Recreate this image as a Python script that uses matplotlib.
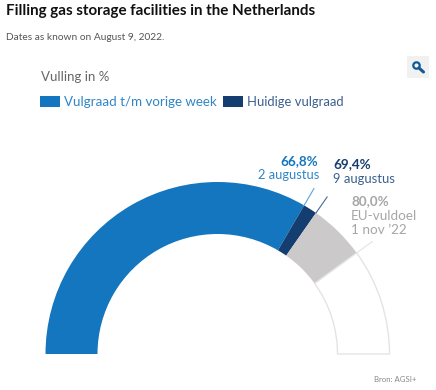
"""Half-donut gauge of the Dutch gas storage filling level."""

import matplotlib

matplotlib.use("Agg")
import matplotlib.pyplot as plt
import numpy as np
from matplotlib.patches import Circle, Rectangle, Wedge

plt.rcParams["font.family"] = ["Lato", "DejaVu Sans"]

TITLE = "Filling gas storage facilities in the Netherlands"
SUBTITLE = "Dates as known on August 9, 2022."
UNIT_LABEL = "Vulling in %"
LEGEND_LABELS = ["Vulgraad t/m vorige week", "Huidige vulgraad"]
SOURCE = "Bron: AGSI+"

# cumulative filling levels in %
LEVELS = [0.0, 66.8, 69.4, 80.0, 100.0]
SEGMENT_COLORS = ["#1476be", "#143d70", "#cbc9c9", "white"]
LEVEL_LABELS = ["66,8%", "69,4%", "80,0%"]
DATE_LABELS = ["2 augustus", "9 augustus", "EU-vuldoel\n1 nov \u201922"]

BLUE = "#1476be"
DARK = "#143d70"
GREY = "#a6a6a6"
CX, CY, R_OUT, R_IN, R_LEAD = 217.5, 36, 172, 120, 191.5
H = 390


def angle(pct):
    return 180 - pct * 1.8


def polar(pct, r):
    a = np.radians(angle(pct))
    return CX + r * np.cos(a), CY + r * np.sin(a)


fig = plt.figure(figsize=(4.36, 3.9), dpi=100)
ax = fig.add_axes([0, 0, 1, 1])
ax.set_xlim(0, 436)
ax.set_ylim(0, H)
ax.axis("off")

for start, end, color in zip(LEVELS[:-1], LEVELS[1:], SEGMENT_COLORS):
    edge = "#e4e4e4" if color == "white" else color
    ax.add_patch(Wedge((CX, CY), R_OUT, angle(end), angle(start), width=R_OUT - R_IN,
                       facecolor=color, edgecolor=edge, linewidth=1 if color == "white" else 0))

# leader lines
for pct, color in zip(LEVELS[1:4], ["#5aa5dc", "#47689a", "#e4e4e4"]):
    x0, y0 = polar(pct, R_OUT)
    x1, y1 = polar(pct, R_LEAD)
    ax.plot([x0, x1], [y0, y1], color=color, lw=0.8)


def label(x, y, text, **kw):
    ax.text(x, H - y, text, va="center", **kw)


label(6, 11, TITLE, fontsize=10.9, fontweight="bold", color="#111111")
label(6, 37, SUBTITLE, fontsize=7.3, color="#555555")
label(41, 77, UNIT_LABEL, fontsize=9.5, color="#666666")

ax.add_patch(Rectangle((40, H - 107), 20, 11, color=BLUE, lw=0))
label(64, 101.5, LEGEND_LABELS[0], fontsize=9.6, color="#2f86c6")
ax.add_patch(Rectangle((223, H - 107), 20, 11, color=DARK, lw=0))
label(247, 101.5, LEGEND_LABELS[1], fontsize=9.4, color="#3a5f8e")

label(318, 161, LEVEL_LABELS[0], ha="right", fontsize=9.7, fontweight="bold", color=BLUE)
label(319, 175, DATE_LABELS[0], ha="right", fontsize=9.3, color="#2f86c6")
label(333, 164, LEVEL_LABELS[1], fontsize=9.7, fontweight="bold", color=DARK)
label(333, 179, DATE_LABELS[1], fontsize=9.4, color="#3a5f8e")
label(351, 201, LEVEL_LABELS[2], fontsize=9.7, fontweight="bold", color=GREY)
label(351, 222.5, DATE_LABELS[2], fontsize=9.7, color=GREY, linespacing=1.2)
label(374, 379, SOURCE, fontsize=5.6, color="#888888")

# zoom button
ax.add_patch(Rectangle((407, H - 78), 22, 22, color="#f1f1f1", lw=0))
ax.add_patch(Circle((416.5, H - 65.5), 3.2, facecolor="none", edgecolor="#125a96", lw=1.6))
ax.plot([419, 423.5], [H - 68, H - 72], color="#125a96", lw=2.2, solid_capstyle="round")

fig.savefig("out.png", dpi=100)
plt.close(fig)
